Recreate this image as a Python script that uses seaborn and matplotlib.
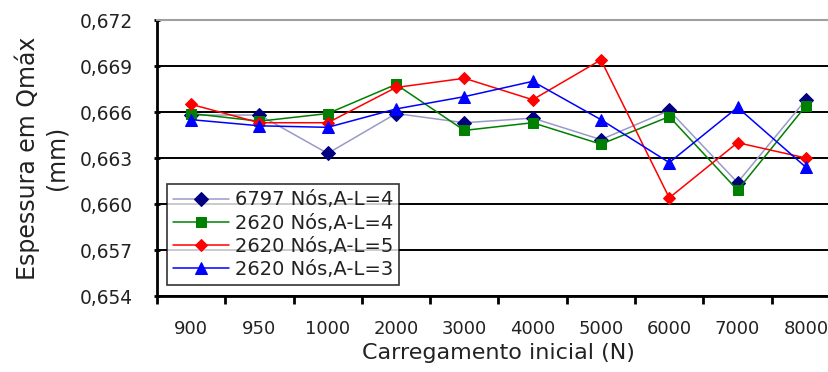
import matplotlib
matplotlib.use("Agg")
import matplotlib.pyplot as plt
import seaborn as sns
import numpy as np
from matplotlib.ticker import FixedLocator

sns.set_theme(style="white")
plt.rcParams['font.family'] = ['DejaVu Sans']

categories = ["900", "950", "1000", "2000", "3000", "4000", "5000", "6000", "7000", "8000"]
s_6797_AL4 = [0.6658, 0.6658, 0.6633, 0.6659, 0.6653, 0.6656, 0.6642, 0.6661, 0.6614, 0.6668]
s_2620_AL4 = [0.6659, 0.6654, 0.6659, 0.6678, 0.6648, 0.6653, 0.6639, 0.6657, 0.6609, 0.6664]
s_2620_AL5 = [0.6665, 0.6653, 0.6653, 0.6676, 0.6682, 0.6668, 0.6694, 0.6604, 0.6640, 0.6630]
s_2620_AL3 = [0.6655, 0.6651, 0.6650, 0.6662, 0.6670, 0.6680, 0.6655, 0.6627, 0.6663, 0.6624]
labels = ["6797 Nós,A-L=4", "2620 Nós,A-L=4", "2620 Nós,A-L=5", "2620 Nós,A-L=3"]
yticks = [0.654, 0.657, 0.660, 0.663, 0.666, 0.669, 0.672]

series = [s_6797_AL4, s_2620_AL4, s_2620_AL5, s_2620_AL3]
line_colors = ["#9a9ac8", "#008000", "#ff0000", "#0000ff"]
marker_colors = ["#000080", "#008000", "#ff0000", "#0000ff"]
markers = ["D", "s", "D", "^"]
msizes = [7, 7, 6.5, 8.5]

fig = plt.figure(figsize=(8.29, 3.72), dpi=100)
ax = fig.add_axes([157/829, (372-296)/372, 683/829, 276/372])

for vals, lab, lc, mc, mk, ms in zip(series, labels, line_colors, marker_colors, markers, msizes):
    sns.lineplot(x=categories, y=vals, ax=ax, color=lc, marker=mk, markersize=ms,
                 markerfacecolor=mc, markeredgecolor=mc, linewidth=1.1, sort=False,
                 label=lab)

ax.set_xlim(-0.5, 9.5)
ax.set_ylim(0.654, 0.672)
ax.set_yticks(yticks)
ax.set_yticklabels([f"{t:.3f}".replace(".", ",") for t in yticks], fontsize=13.4, color="#222222")
ax.yaxis.grid(True, color="black", linewidth=1.4)
ax.xaxis.grid(False)
ax.set_axisbelow(True)

ax.set_xticks(range(len(categories)))
ax.set_xticklabels(categories, fontsize=13, color="#222222")
ax.xaxis.set_minor_locator(FixedLocator(np.arange(-0.5, 10, 1)))
ax.tick_params(axis="x", which="major", length=0, pad=17)
ax.tick_params(axis="x", which="minor", length=6, width=2, direction="out", color="black", bottom=True)
ax.tick_params(axis="y", which="major", length=5, width=2, direction="inout", color="black", left=True, pad=15)

for side in ["left", "bottom"]:
    ax.spines[side].set_color("black")
    ax.spines[side].set_linewidth(2)
ax.spines["top"].set_color("#a0a0a0")
ax.spines["top"].set_linewidth(1.5)
ax.spines["right"].set_visible(False)

ax.set_xlabel("Carregamento inicial (N)", fontsize=16, color="#222222", labelpad=4)
ax.set_ylabel("Espessura em Qmáx\n(mm)", fontsize=17, color="#222222", labelpad=8, linespacing=1.25)

leg = ax.legend(loc="lower left", bbox_to_anchor=(10/683, 11/276), borderaxespad=0,
                fontsize=14, frameon=True, fancybox=False, edgecolor="black",
                handlelength=2.9, labelspacing=0.22, borderpad=0.3, handletextpad=0.3)
leg.get_frame().set_linewidth(1.2)
for t in leg.get_texts():
    t.set_color("#222222")

fig.savefig("out.png", dpi=100)
